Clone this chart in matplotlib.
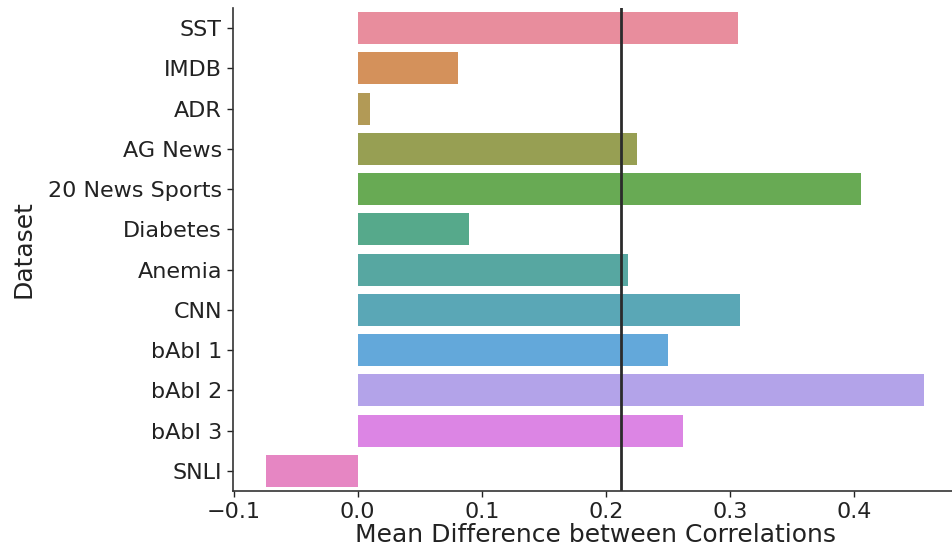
import numpy as np
import matplotlib
matplotlib.use('Agg')
import matplotlib.pyplot as plt
import seaborn as sns

# 各数据集的相关性平均差值
datasets = ['SST', 'IMDB', 'ADR', 'AG News', '20 News Sports', 'Diabetes',
            'Anemia', 'CNN', 'bAbI 1', 'bAbI 2', 'bAbI 3', 'SNLI']
mean_diff = [0.307, 0.081, 0.010, 0.225, 0.406, 0.0895,
             0.218, 0.308, 0.250, 0.457, 0.262, -0.074]
overall_mean = 0.212

plt.rcParams['font.family'] = ['DejaVu Sans']

# husl 调色板，降低饱和度
palette = [sns.desaturate(c, 0.75) for c in sns.husl_palette(len(datasets))]

fig = plt.figure(figsize=(9.53, 5.57), dpi=100)
ax = fig.add_axes([233 / 953, 66 / 557, 724.4 / 953, 483 / 557])

y = np.arange(len(datasets))
ax.barh(y, mean_diff, height=0.8, color=palette, edgecolor='none', alpha=0.9)
ax.axvline(overall_mean, color='#2b2b2b', linewidth=2)

ax.set_yticks(y)
ax.set_yticklabels(datasets)
ax.set_ylim(len(datasets) - 0.5, -0.5)
ax.set_xlim(-0.1006, 0.4836)
ax.set_xticks([-0.1, 0.0, 0.1, 0.2, 0.3, 0.4])
ax.set_xticklabels(['\u22120.1', '0.0', '0.1', '0.2', '0.3', '0.4'])

ax.tick_params(axis='both', labelsize=16, colors='#222222', length=4.5, width=1)
ax.set_xlabel('Mean Difference between Correlations', fontsize=18, color='#222222', labelpad=1)
ax.set_ylabel('Dataset', fontsize=18, color='#222222', labelpad=9)

for side in ['top', 'right']:
    ax.spines[side].set_visible(False)
for side in ['left', 'bottom']:
    ax.spines[side].set_color('#333333')
    ax.spines[side].set_linewidth(1.2)

plt.savefig('out.png', dpi=100)
plt.close()
